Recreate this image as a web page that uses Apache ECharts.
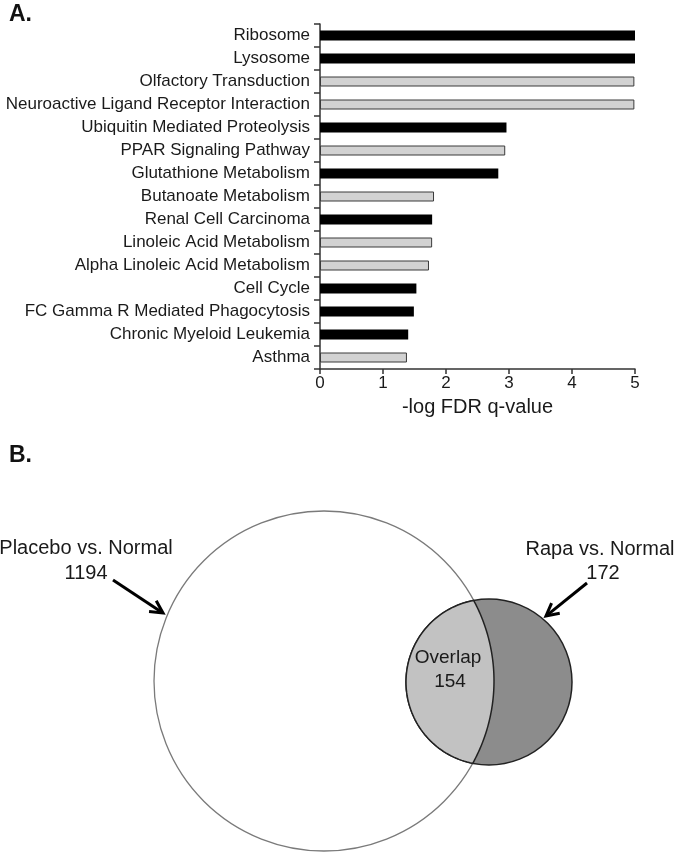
<!DOCTYPE html>
<html>
<head>
<meta charset="utf-8">
<script src="https://cdn.jsdelivr.net/npm/echarts@6/dist/echarts.min.js"></script>
<style>
html,body{margin:0;padding:0;background:#fff;}
#chart{width:677px;height:853px;}
</style>
</head>
<body>
<div id="chart"></div>
<script>
// ---------- Panel A data ----------
const categories = [
  'Ribosome', 'Lysosome', 'Olfactory Transduction',
  'Neuroactive Ligand Receptor Interaction', 'Ubiquitin Mediated Proteolysis',
  'PPAR Signaling Pathway', 'Glutathione Metabolism', 'Butanoate Metabolism',
  'Renal Cell Carcinoma', 'Linoleic Acid Metabolism',
  'Alpha Linoleic Acid Metabolism', 'Cell Cycle',
  'FC Gamma R Mediated Phagocytosis', 'Chronic Myeloid Leukemia', 'Asthma'
];
const values = [5.0, 5.0, 4.99, 4.99, 2.96, 2.94, 2.83, 1.81, 1.78, 1.78, 1.73, 1.53, 1.49, 1.40, 1.38];
const barGroup = ['dark', 'dark', 'light', 'light', 'dark', 'light', 'dark', 'light', 'dark', 'light', 'light', 'dark', 'dark', 'dark', 'light'];
const xTicks = [0, 1, 2, 3, 4, 5];
const xAxisTitle = '-log FDR q-value';

// ---------- Panel B data ----------
const vennSetNames = ['Placebo vs. Normal', 'Rapa vs. Normal'];
const vennSetCounts = [1194, 172];
const overlapName = 'Overlap';
const overlapCount = 154;

// ---------- layout / style (not data) ----------
const FONT = '"Liberation Sans", Arial, Helvetica, sans-serif';
const groupStyle = {
  dark: { color: '#000000', borderColor: '#000000', borderWidth: 0 },
  light: { color: '#d2d2d2', borderColor: '#3a3a3a', borderWidth: 1 }
};
// Venn geometry in an abstract unit space (1 unit ~ 1 px)
const vennCircles = [
  { cx: 0, cy: 0, r: 170 },
  { cx: 165, cy: -1, r: 83 }
];
const vennLayout = {
  setLabel: [[-238, 133], [276, 132]],
  setCount: [[-238, 108], [279, 108]],
  arrowFrom: [[-211, 101], [263, 98]],
  arrowTo: [[-161, 68], [222, 65]],
  overlapLabel: [124, 23],
  overlapCount: [126, -1]
};

const barData = values.map((v, i) => ({ value: v, itemStyle: groupStyle[barGroup[i]] }));

function arcBetween(c, r, pA, pB, towards, N) {
  const norm = x => ((x % (2 * Math.PI)) + 2 * Math.PI) % (2 * Math.PI);
  const aA = Math.atan2(pA[1] - c[1], pA[0] - c[0]);
  const aB = Math.atan2(pB[1] - c[1], pB[0] - c[0]);
  const aT = Math.atan2(towards[1] - c[1], towards[0] - c[0]);
  const span = norm(aB - aA);
  const total = norm(aT - aA) < span ? span : -(2 * Math.PI - span);
  const pts = [];
  for (let i = 0; i <= N; i++) {
    const t = aA + total * i / N;
    pts.push([c[0] + r * Math.cos(t), c[1] + r * Math.sin(t)]);
  }
  return pts;
}

function textEl(p, txt, size) {
  return {
    type: 'text', x: p[0], y: p[1],
    style: {
      text: txt, fill: '#1a1a1a', font: size + 'px ' + FONT,
      fontSize: size, fontFamily: FONT,
      align: 'center', verticalAlign: 'middle',
      textAlign: 'center', textVerticalAlign: 'middle'
    }
  };
}

function arrowEls(from, to) {
  const dx = to[0] - from[0], dy = to[1] - from[1];
  const len = Math.hypot(dx, dy);
  const ux = dx / len, uy = dy / len;
  const hl = 14, ang = Math.PI / 6.5;
  const w1 = [to[0] - hl * (ux * Math.cos(ang) - uy * Math.sin(ang)), to[1] - hl * (uy * Math.cos(ang) + ux * Math.sin(ang))];
  const w2 = [to[0] - hl * (ux * Math.cos(-ang) - uy * Math.sin(-ang)), to[1] - hl * (uy * Math.cos(-ang) + ux * Math.sin(-ang))];
  return [
    { type: 'polyline', shape: { points: [from, [to[0] - ux * 1.5, to[1] - uy * 1.5]] }, style: { stroke: '#000', lineWidth: 3, fill: null } },
    { type: 'polyline', shape: { points: [w1, to, w2] }, style: { stroke: '#000', lineWidth: 3, fill: null, lineJoin: 'miter' } }
  ];
}

function vennRender(params, api) {
  const big = vennCircles[0], small = vennCircles[1];
  const c0 = api.coord([big.cx, big.cy]);
  const c1 = api.coord([small.cx, small.cy]);
  const r0 = api.size([big.r, 0])[0];
  const r1 = api.size([small.r, 0])[0];
  const dx = c1[0] - c0[0], dy = c1[1] - c0[1];
  const d = Math.hypot(dx, dy);
  const a = (d * d + r0 * r0 - r1 * r1) / (2 * d);
  const h = Math.sqrt(Math.max(0, r0 * r0 - a * a));
  const ux = dx / d, uy = dy / d;
  const mx = c0[0] + a * ux, my = c0[1] + a * uy;
  const p1 = [mx + h * uy, my - h * ux];
  const p2 = [mx - h * uy, my + h * ux];
  const lens = arcBetween(c1, r1, p1, p2, c0, 80).concat(arcBetween(c0, r0, p2, p1, c1, 80));

  const children = [
    { type: 'circle', shape: { cx: c0[0], cy: c0[1], r: r0 }, style: { fill: '#ffffff', stroke: '#7a7a7a', lineWidth: 1.3 } },
    { type: 'circle', shape: { cx: c1[0], cy: c1[1], r: r1 }, style: { fill: '#8c8c8c', stroke: '#222222', lineWidth: 1.5 } },
    { type: 'polygon', shape: { points: lens }, style: { fill: '#c2c2c2', stroke: '#222222', lineWidth: 1.5 } }
  ];
  for (let i = 0; i < 2; i++) {
    const f = api.coord(vennLayout.arrowFrom[i]);
    const t = api.coord(vennLayout.arrowTo[i]);
    children.push(...arrowEls(f, t));
    children.push(textEl(api.coord(vennLayout.setLabel[i]), vennSetNames[i], 20));
    children.push(textEl(api.coord(vennLayout.setCount[i]), String(vennSetCounts[i]), 20));
  }
  children.push(textEl(api.coord(vennLayout.overlapLabel), overlapName, 19));
  children.push(textEl(api.coord(vennLayout.overlapCount), String(overlapCount), 19));
  return { type: 'group', children: children };
}

const chart = echarts.init(document.getElementById('chart'), null, { renderer: 'canvas' });
chart.setOption({
  animation: false,
  backgroundColor: '#ffffff',
  textStyle: { fontFamily: FONT },
  title: [
    { text: 'A.', left: 9, top: 3, padding: 0, textStyle: { fontSize: 23, fontWeight: 'bold', color: '#111', fontFamily: FONT } },
    { text: 'B.', left: 9, top: 444, padding: 0, textStyle: { fontSize: 23, fontWeight: 'bold', color: '#111', fontFamily: FONT } }
  ],
  grid: [
    { left: 320, right: 42, top: 24, height: 345, containLabel: false },
    { left: 0, right: 0, top: 430, bottom: 0, containLabel: false }
  ],
  xAxis: [
    {
      gridIndex: 0, type: 'value', min: xTicks[0], max: xTicks[xTicks.length - 1], interval: 1,
      name: xAxisTitle, nameLocation: 'middle', nameGap: 28,
      nameTextStyle: { fontSize: 20, color: '#1a1a1a', fontFamily: FONT },
      axisLine: { show: true, lineStyle: { color: '#333', width: 1.5 } },
      axisTick: { show: true, length: 5, lineStyle: { color: '#333', width: 1.5 } },
      axisLabel: { fontSize: 17, color: '#1a1a1a', margin: 6, fontFamily: FONT },
      splitLine: { show: false }
    },
    { gridIndex: 1, type: 'value', min: -324, max: 353, show: false }
  ],
  yAxis: [
    {
      gridIndex: 0, type: 'category', data: categories, inverse: true,
      axisLine: { show: true, lineStyle: { color: '#333', width: 1.5 } },
      axisTick: { show: true, length: 6, lineStyle: { color: '#333', width: 1.5 } },
      axisLabel: { fontSize: 17, color: '#1a1a1a', margin: 10, fontFamily: FONT },
      splitLine: { show: false }
    },
    { gridIndex: 1, type: 'value', min: -172, max: 251, show: false }
  ],
  series: [
    {
      type: 'bar', xAxisIndex: 0, yAxisIndex: 0,
      data: barData, barWidth: 10, silent: true
    },
    {
      type: 'custom', xAxisIndex: 1, yAxisIndex: 1, coordinateSystem: 'cartesian2d',
      data: [[0, 0]], renderItem: vennRender, clip: false, silent: true
    }
  ]
});
</script>
</body>
</html>
